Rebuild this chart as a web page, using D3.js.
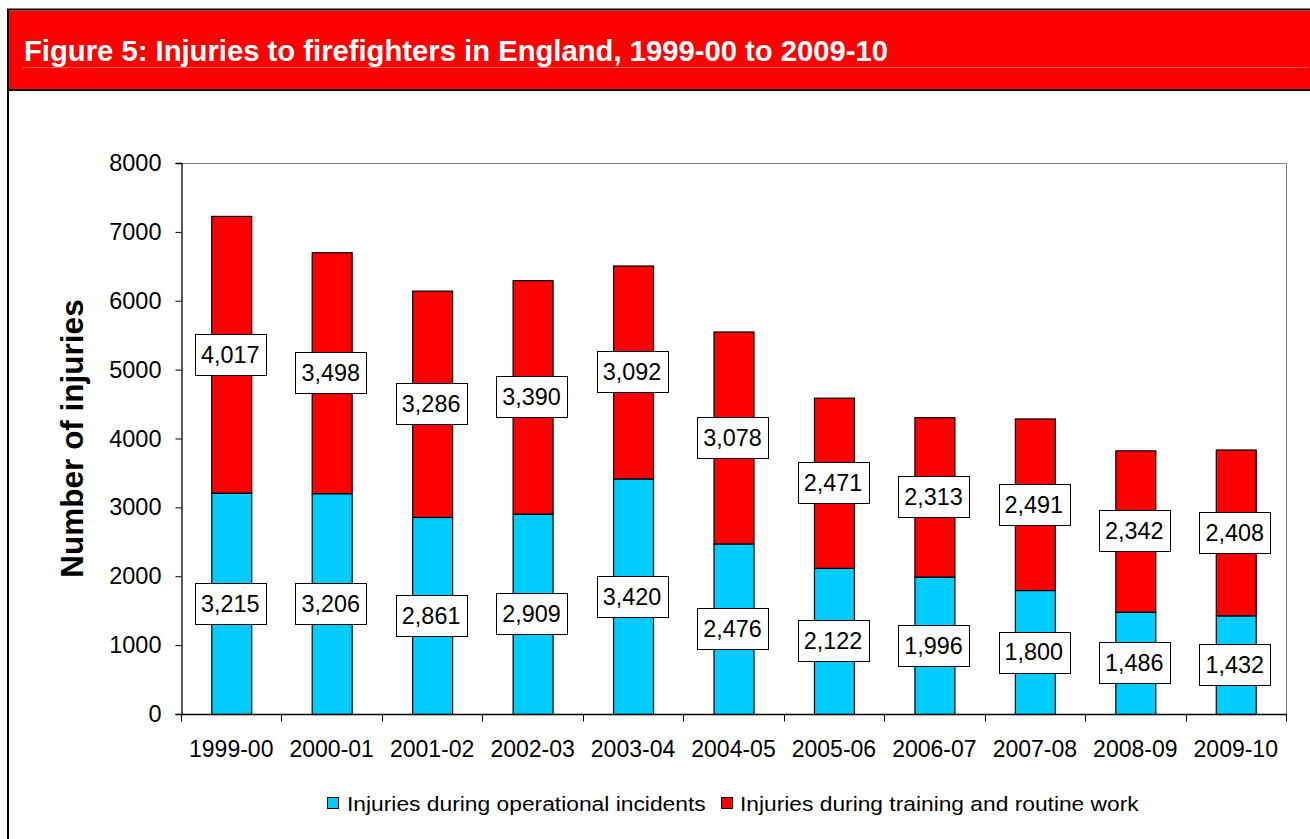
<!DOCTYPE html>
<html>
<head>
<meta charset="utf-8">
<script src="https://cdn.jsdelivr.net/npm/d3@7"></script>
<style>
  html, body { margin: 0; padding: 0; background: #ffffff; }
  svg { display: block; font-family: "Liberation Sans", Arial, sans-serif; }
</style>
</head>
<body>
<svg id="chart" width="1310" height="839"></svg>
<script>
const title = "Figure 5: Injuries to firefighters in England, 1999-00 to 2009-10";
const categories = ["1999-00","2000-01","2001-02","2002-03","2003-04","2004-05","2005-06","2006-07","2007-08","2008-09","2009-10"];
const operational = [3215, 3206, 2861, 2909, 3420, 2476, 2122, 1996, 1800, 1486, 1432];
const training = [4017, 3498, 3286, 3390, 3092, 3078, 2471, 2313, 2491, 2342, 2408];
const seriesNames = ["Injuries during operational incidents", "Injuries during training and routine work"];
const seriesColors = ["#00CCFF", "#FF0000"];
const yTicks = [0, 1000, 2000, 3000, 4000, 5000, 6000, 7000, 8000];
const yTitle = "Number of injuries";

const svg = d3.select("#chart");

// outer frame and header
svg.append("rect").attr("x", 8).attr("y", 9.5).attr("width", 1320).attr("height", 900)
  .attr("fill", "#fff").attr("stroke", "#000").attr("stroke-width", 2);
svg.append("rect").attr("x", 9).attr("y", 10.5).attr("width", 1310).attr("height", 79)
  .attr("fill", "#FF0000");
svg.append("line").attr("x1", 8).attr("x2", 1310).attr("y1", 90).attr("y2", 90)
  .attr("stroke", "#000").attr("stroke-width", 2);
svg.append("line").attr("x1", 23).attr("x2", 1308).attr("y1", 67.5).attr("y2", 67.5)
  .attr("stroke", "#ff5a5a").attr("stroke-width", 1);
svg.append("text").attr("x", 24).attr("y", 61)
  .attr("fill", "#fff").attr("font-weight", "bold").attr("font-size", 29)
  .attr("textLength", 864).attr("lengthAdjust", "spacingAndGlyphs")
  .text(title);

// plot geometry
const pLeft = 181, pRight = 1286, pTop = 163, pBottom = 714;
const x = d3.scaleBand().domain(categories).range([pLeft, pRight])
  .paddingInner(0.602).paddingOuter(0.301);
const y = d3.scaleLinear().domain([0, 8000]).range([pBottom, pTop]);

// plot border (gray top and right)
svg.append("line").attr("x1", pLeft).attr("x2", pRight).attr("y1", pTop + 0.5).attr("y2", pTop + 0.5)
  .attr("stroke", "#808080").attr("stroke-width", 1);
svg.append("line").attr("x1", pRight + 0.5).attr("x2", pRight + 0.5).attr("y1", pTop).attr("y2", pBottom)
  .attr("stroke", "#808080").attr("stroke-width", 1);

// stacked data
const rows = categories.map((c, i) => ({ cat: c, op: operational[i], tr: training[i] }));
const stack = d3.stack().keys(["op", "tr"])(rows);

const g = svg.append("g");
stack.forEach((layer, li) => {
  g.selectAll(null).data(layer).enter().append("rect")
    .attr("x", d => x(d.data.cat) + 0.5)
    .attr("width", x.bandwidth())
    .attr("y", d => y(d[1]) + 0.5)
    .attr("height", d => y(d[0]) - y(d[1]))
    .attr("fill", seriesColors[li])
    .attr("stroke", "#000").attr("stroke-width", 1.2);
});

// axes
const yAxis = d3.axisLeft(y).tickValues(yTicks).tickSize(6).tickPadding(14).tickFormat(d3.format("d"));
const yg = svg.append("g").attr("transform", `translate(${pLeft + 0.5},0)`).call(yAxis);
yg.select(".domain").attr("stroke", "#000").attr("stroke-width", 1.3);
yg.selectAll(".tick line").attr("stroke", "#000");
yg.selectAll(".tick text").attr("font-size", 23.5).attr("fill", "#000")
  .attr("font-family", "'Liberation Sans', Arial, sans-serif");

const bounds = d3.range(categories.length + 1).map(i => pLeft + i * x.step());
const xg = svg.append("g").attr("transform", `translate(0,${pBottom + 0.5})`);
xg.append("line").attr("x1", pLeft).attr("x2", pRight + 1).attr("y1", 0).attr("y2", 0)
  .attr("stroke", "#000").attr("stroke-width", 1.3);
xg.selectAll(".bt").data(bounds).enter().append("line")
  .attr("x1", d => Math.round(d) + 0.5).attr("x2", d => Math.round(d) + 0.5)
  .attr("y1", 0).attr("y2", 7).attr("stroke", "#000");
xg.selectAll(".xl").data(categories).enter().append("text")
  .attr("x", d => x(d) + x.bandwidth() / 2)
  .attr("y", 42)
  .attr("text-anchor", "middle").attr("font-size", 23).attr("fill", "#000")
  .text(d => d);

// y title
svg.append("text")
  .attr("transform", `translate(83,${(pTop + pBottom) / 2}) rotate(-90)`)
  .attr("text-anchor", "middle").attr("font-size", 31.5).attr("font-weight", "bold")
  .attr("fill", "#000").text(yTitle);

// data labels
const fmt = d3.format(",");
stack.forEach((layer, li) => {
  layer.forEach(d => {
    const cx = x(d.data.cat) + x.bandwidth() / 2 - 1;
    const cy = (y(d[0]) + y(d[1])) / 2;
    const lg = svg.append("g");
    const box = lg.append("rect");
    const t = lg.append("text")
      .attr("x", cx).attr("y", cy + 8.4)
      .attr("text-anchor", "middle").attr("font-size", 23.4).attr("fill", "#000")
      .text(fmt(d[1] - d[0]));
    const w = t.node().getComputedTextLength() + 12;
    box.attr("x", Math.round(cx - w / 2) + 0.5).attr("y", Math.round(cy - 20.5) + 0.5)
      .attr("width", Math.round(w)).attr("height", 41)
      .attr("fill", "#fff").attr("stroke", "#000").attr("stroke-width", 1);
  });
});

// legend
const legendItems = [
  { sx: 327, tx: 347, tw: 359 },
  { sx: 721, tx: 740, tw: 399 }
];
legendItems.forEach((it, i) => {
  svg.append("rect").attr("x", it.sx + 0.5).attr("y", 797.5).attr("width", 11).attr("height", 11)
    .attr("fill", seriesColors[i]).attr("stroke", "#000").attr("stroke-width", 1);
  const t = svg.append("text").attr("x", 0).attr("y", 0)
    .attr("font-size", 20).attr("fill", "#000")
    .text(seriesNames[i]);
  const natural = t.node().getComputedTextLength();
  t.attr("transform", `translate(${it.tx},810.5) scale(${it.tw / natural},1)`);
});
</script>
</body>
</html>
